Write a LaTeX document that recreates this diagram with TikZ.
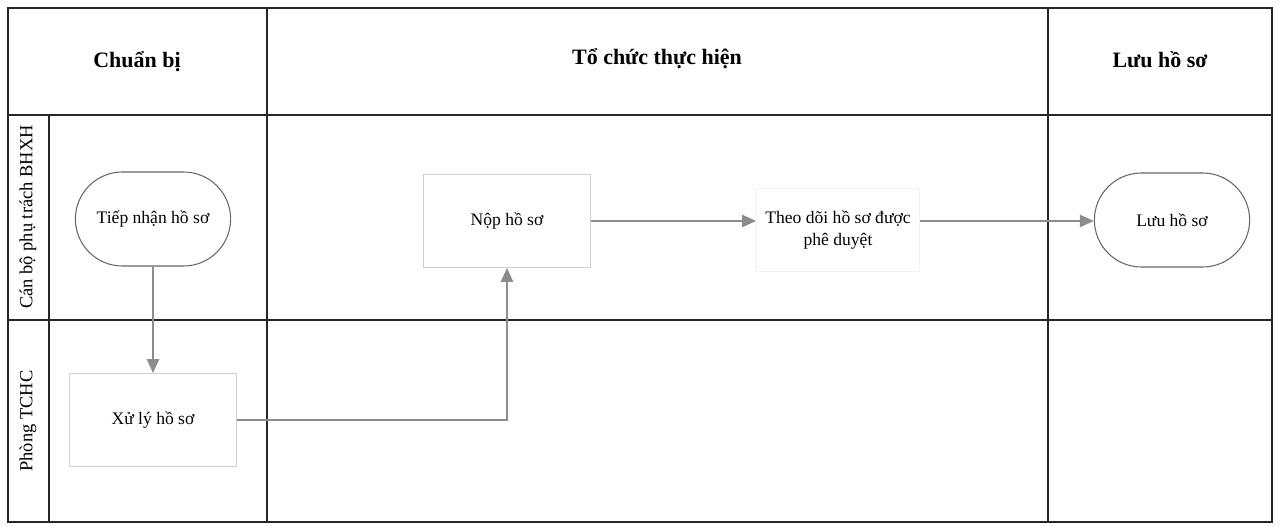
\documentclass[tikz,border=0pt]{standalone}
\usepackage{fontspec}
\setmainfont{Liberation Serif}
\usetikzlibrary{arrows.meta,shapes.misc}

\begin{document}
\begin{tikzpicture}[x=0.02cm,y=-0.02cm,
  lane/.style={draw=black!85,line width=0.7pt},
  hdr/.style={font=\bfseries\fontsize{12.5}{15}\selectfont},
  lanelbl/.style={rotate=90,font=\fontsize{10.5}{12}\selectfont},
  term/.style={rounded rectangle,draw=black!60,line width=0.6pt,minimum width=3.34cm,minimum height=1.88cm,font=\fontsize{10}{12}\selectfont},
  task/.style={draw=black!18,line width=0.5pt,minimum width=3.34cm,minimum height=1.86cm,font=\fontsize{10}{12}\selectfont},
  flow/.style={draw=black!45,line width=0.9pt,-{Triangle[length=8pt,width=7pt]}}]
\useasboundingbox (0,0) rectangle (1280,526);
% swimlane grid
\draw[lane] (8,8) rectangle (1272,522);
\draw[lane] (8,115)--(1272,115);
\draw[lane] (8,320)--(1272,320);
\draw[lane] (267,8)--(267,522);
\draw[lane] (1048,8)--(1048,522);
\draw[lane] (49,115)--(49,522);
% headers
\node[hdr] (hprep) at (137,62) {Chuẩn bị};
\node[hdr] (hexec) at (657,59) {Tổ chức thực hiện};
\node[hdr] (hkeep) at (1160,60) {Lưu hồ sơ};
\node[lanelbl] (lbhxh) at (28,217) {Cán bộ phụ trách BHXH};
\node[lanelbl] (ltchc) at (28,421) {Phòng TCHC};
% steps
\node[term] (receive) at (153,219) {Tiếp nhận hồ sơ};
\node[task] (process) at (153,420) {Xử lý hồ sơ};
\node[task] (submit) at (507,221) {Nộp hồ sơ};
\node[task,draw=black!5,minimum width=3.26cm,minimum height=1.66cm,align=center] (track) at (838,230) {Theo dõi hồ sơ được\\phê duyệt};
\node[term] (archive) at (1172,220) {Lưu hồ sơ};
% flows
\draw[flow] (receive) -- (process);
\draw[flow] (process.east) -| (submit.south);
\draw[flow] (submit.east) -- (submit.east -| track.west);
\draw[flow] (submit.east -| track.east) -- (submit.east -| archive.west);
\end{tikzpicture}
\end{document}
